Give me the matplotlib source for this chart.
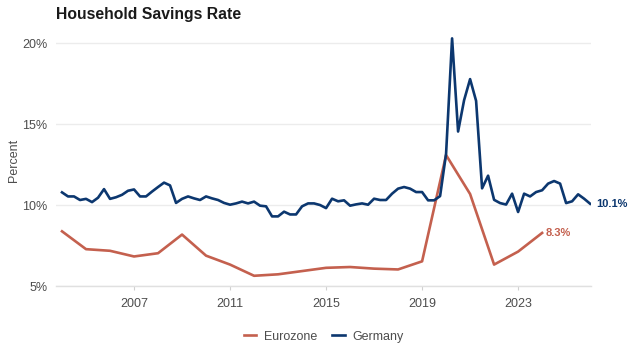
import matplotlib
matplotlib.use('Agg')
import matplotlib.pyplot as plt
import numpy as np

plt.rcParams['font.family'] = ['Liberation Sans', 'DejaVu Sans']

# Euro area, annual savings rate (%)
ez_years = list(range(2004, 2025))
ez_rate = [8.4, 7.3, 7.2, 6.85, 7.05, 8.2, 6.9, 6.35, 5.66, 5.75, 5.95,
           6.15, 6.2, 6.1, 6.05, 6.55, 13.1, 10.7, 6.35, 7.15, 8.3]

# Germany, quarterly savings rate (%), 2004 Q1 onwards
de_rate = [10.8, 10.55, 10.55, 10.33, 10.4, 10.2, 10.47, 11.0,
           10.4, 10.5, 10.65, 10.9, 10.98, 10.55, 10.55, 10.85,
           11.13, 11.4, 11.23, 10.15, 10.4, 10.55, 10.43, 10.33,
           10.55, 10.43, 10.33, 10.15, 10.04, 10.12, 10.23, 10.12,
           10.23, 9.98, 9.94, 9.32, 9.32, 9.61, 9.44, 9.44,
           9.94, 10.12, 10.12, 10.02, 9.83, 10.41, 10.25, 10.31,
           9.98, 10.06, 10.12, 10.04, 10.41, 10.33, 10.33, 10.72,
           11.03, 11.13, 11.03, 10.82, 10.82, 10.31, 10.31, 10.57,
           13.19, 20.29, 14.55, 16.48, 17.78, 16.44, 11.05, 11.83,
           10.34, 10.14, 10.05, 10.72, 9.59, 10.72, 10.55, 10.82,
           10.93, 11.34, 11.5, 11.34, 10.14, 10.25, 10.68, 10.41, 10.1]
de_t = 2004 + np.arange(len(de_rate)) / 4

ez_color = '#c4604e'
de_color = '#0c376f'
grey = '#4d4d4d'

fig = plt.figure(figsize=(6.28, 3.45), dpi=100)
ax = fig.add_axes([0.0892, 0.1696, 0.852, 0.729])

ax.plot(ez_years, ez_rate, color=ez_color, lw=1.9, label='Eurozone',
        solid_joinstyle='round')
ax.plot(de_t, de_rate, color=de_color, lw=1.9, label='Germany',
        solid_joinstyle='round')

ax.text(ez_years[-1] + 0.15, ez_rate[-1], f'{ez_rate[-1]:.1f}%',
        color=ez_color, fontsize=8, fontweight='bold', va='center', ha='left')
ax.text(de_t[-1] + 0.25, de_rate[-1], f'{de_rate[-1]:.1f}%',
        color=de_color, fontsize=8, fontweight='bold', va='center', ha='left')

ax.set_xlim(2003.75, 2026.04)
ax.set_ylim(5, 20.5)
ax.set_xticks([2007, 2011, 2015, 2019, 2023])
ax.set_yticks([5, 10, 15, 20])
ax.set_yticklabels(['5%', '10%', '15%', '20%'])

ax.grid(axis='y', color='#ececec', lw=1)
ax.set_axisbelow(True)
for s in ['top', 'right', 'left']:
    ax.spines[s].set_visible(False)
ax.spines['bottom'].set_color('#e0e0e0')
ax.spines['bottom'].set_linewidth(1)
ax.tick_params(axis='y', length=0, pad=6, labelsize=9, labelcolor=grey)
ax.tick_params(axis='x', length=3, color='#d0d0d0', pad=5, labelsize=9,
               labelcolor=grey)

ax.set_ylabel('Percent', fontsize=9, color=grey, labelpad=2)
fig.text(0.0892, 0.945, 'Household Savings Rate', fontsize=11.3,
         fontweight='bold', color='#1a1a1a', ha='left', va='baseline')

ax.legend(loc='center', bbox_to_anchor=(0.5, -0.2), ncol=2,
          frameon=False, fontsize=9, labelcolor=grey, handlelength=1.0,
          handletextpad=0.6, columnspacing=1.2)

fig.savefig('out.png', dpi=100)
